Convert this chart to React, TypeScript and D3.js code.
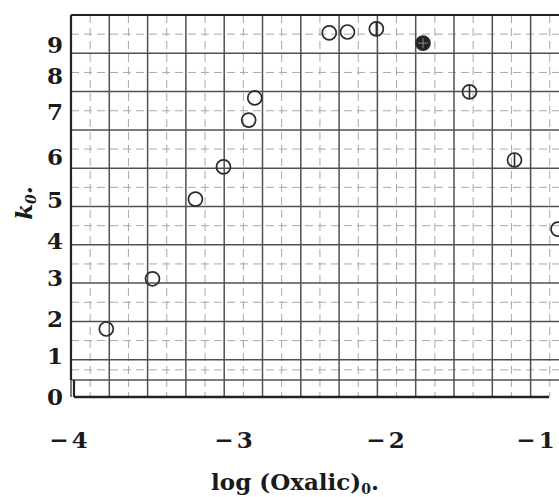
import React from "react";
import * as d3 from "d3";

// ---- data ----
const xTicks = [-4, -3, -2, -1];
const yTicks = [0, 1, 2, 3, 4, 5, 6, 7, 8, 9];
const logOxalic = [-3.78, -3.5, -3.24, -3.07, -2.91, -2.87, -2.38, -2.26, -2.07, -1.76, -1.45, -1.15, -0.86];
const k0 = [1.73, 2.98, 5.02, 5.77, 6.82, 7.39, 9.39, 9.42, 9.52, 9.06, 7.56, 5.93, 4.29];
const markerKind = ["open", "open", "open", "open", "open", "open", "open", "open", "bar", "filled", "bar", "bar", "open"];

const W = 559;
const H = 497;
const FONT = "'DejaVu Serif', serif";

export default function App() {
  // the scanned figure's axes are slightly uneven: piecewise-linear scales follow the printed ticks
  const x = d3.scaleLinear().domain(xTicks).range([70, 235, 387, 537]);
  const y = d3.scaleLinear().domain(yTicks).range([397, 356, 319, 278, 241, 200, 157, 112, 76, 45]);

  // graph paper geometry (decorative background)
  const left = 71, top = 15, pitch = 38.3, gridBottom = 380, axisY = 397;
  const paperX = d3.scaleLinear().domain([0, 1]).range([left, left + pitch]);
  const paperY = d3.scaleLinear().domain([0, 1]).range([top, top + pitch]);
  const vMajor = d3.range(0, 14).map((i) => paperX(i)).filter((v) => v <= W + 2);
  const vMinor = d3.range(0, 14).map((i) => paperX(i + 0.5)).filter((v) => v <= W + 2);
  const hMajor = d3.range(0, 10).map((i) => paperY(i)).filter((v) => v < gridBottom - 5);
  const hMinor = d3.range(0, 10).map((i) => paperY(i + 0.5)).filter((v) => v < gridBottom - 5);
  const lastMinor = (hMajor[hMajor.length - 1] + gridBottom) / 2;

  const data = logOxalic.map((v, i) => ({ x: v, y: k0[i], kind: markerKind[i] }));
  const r = 7;

  return (
    <svg width={W} height={H} style={{ position: "absolute", left: 0, top: 0, background: "#fff" }}>
      <rect x={0} y={0} width={W} height={H} fill="#fff" />
      {/* minor dashed grid */}
      <g stroke="#a8a8a8" strokeWidth={1} strokeDasharray="8,5">
        {vMinor.map((v, i) => (
          <line key={"vm" + i} x1={v} x2={v} y1={top} y2={axisY} />
        ))}
        {hMinor.map((v, i) => (
          <line key={"hm" + i} x1={left} x2={W} y1={v} y2={v} />
        ))}
        <line x1={left} x2={W} y1={lastMinor} y2={lastMinor} />
      </g>
      {/* major grid */}
      <g stroke="#505050" strokeWidth={1.5}>
        {vMajor.map((v, i) => (
          <line key={"v" + i} x1={v} x2={v} y1={top} y2={axisY} />
        ))}
        {hMajor.map((v, i) => (
          <line key={"h" + i} x1={left} x2={W} y1={v} y2={v} />
        ))}
        <line x1={left} x2={W} y1={gridBottom} y2={gridBottom} />
      </g>
      {/* frame */}
      <g stroke="#222" fill="none">
        <line x1={left} x2={W} y1={top} y2={top} strokeWidth={2.2} />
        <line x1={left} x2={left} y1={top} y2={gridBottom} strokeWidth={2.2} />
        <line x1={left + 3} x2={left + 3} y1={gridBottom} y2={axisY} strokeWidth={2.2} />
        <line x1={left + 3} x2={W - 10} y1={axisY} y2={axisY} strokeWidth={2.6} />
      </g>

      {/* y tick labels */}
      <g fontFamily={FONT} fontWeight="bold" fontSize={23} fill="#1a1a1a" textAnchor="end">
        {yTicks.map((t) => (
          <text key={t} x={63} y={y(t) + 8.3}>
            {t}
          </text>
        ))}
      </g>
      {/* x tick labels */}
      <g fontFamily={FONT} fontWeight="bold" fontSize={23} fill="#1a1a1a" textAnchor="middle">
        {xTicks.map((t) => (
          <text key={t} x={x(t)} y={448} letterSpacing={3}>
            {"\u2212" + Math.abs(t)}
          </text>
        ))}
      </g>

      {/* axis titles */}
      <text x={295} y={490} textAnchor="middle" fontFamily={FONT} fontWeight="bold" fontSize={23} fill="#1a1a1a">
        log (Oxalic)
        <tspan fontSize={14} dy={4}>0</tspan>
        <tspan dy={-4}>.</tspan>
      </text>
      <text
        transform={`translate(32,203) rotate(-90)`}
        textAnchor="middle"
        fontFamily={FONT}
        fontStyle="italic"
        fontWeight="bold"
        fontSize={23}
        fill="#1a1a1a"
      >
        k
        <tspan fontSize={14} dy={4}>0</tspan>
        <tspan dy={-4}>.</tspan>
      </text>

      {/* data points */}
      <g>
        {data.map((d, i) => {
          const cx = x(d.x);
          const cy = y(d.y);
          return (
            <g key={i}>
              <circle cx={cx} cy={cy} r={r} fill={d.kind === "filled" ? "#222" : "none"} stroke="#2a2a2a" strokeWidth={1.7} />
              {d.kind === "bar" && <line x1={cx} x2={cx} y1={cy - r} y2={cy + r} stroke="#2a2a2a" strokeWidth={1.6} />}
              {d.kind === "filled" && (
                <g stroke="#888" strokeWidth={1}>
                  <line x1={cx - r + 2} x2={cx + r - 2} y1={cy} y2={cy} />
                  <line x1={cx} x2={cx} y1={cy - r + 2} y2={cy + r - 2} />
                </g>
              )}
            </g>
          );
        })}
      </g>
    </svg>
  );
}
